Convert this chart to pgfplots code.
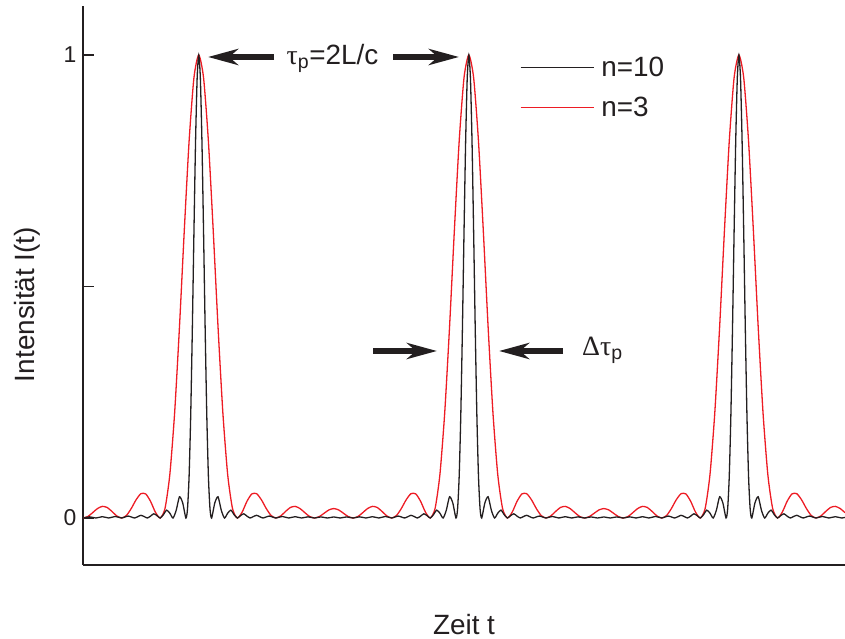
\documentclass[border=0pt]{standalone}
\usepackage{fontspec}
\setmainfont{Liberation Sans}
\newfontfamily\grk{Liberation Serif}
\usepackage{pgfplots}
\pgfplotsset{compat=1.18}
\usetikzlibrary{arrows.meta}
\definecolor{cblack}{RGB}{35,31,32}
\definecolor{cred}{RGB}{237,28,36}
\begin{document}
\begin{tikzpicture}[x=1bp,y=1bp]
\useasboundingbox (0,0) rectangle (845,639);
\begin{axis}[
  at={(83bp,74bp)}, anchor=south west,
  scale only axis, width=762bp, height=559bp,
  xmin=-72, xmax=402, ymin=-0.1015, ymax=1.1058,
  axis lines*=left,
  axis line style={line width=1.9bp, color=cblack},
  xtick=\empty,
  ytick={0,0.5,1}, yticklabels={0,,1},
  tick align=inside, major tick length=11bp,
  tick style={line width=1.9bp, color=cblack},
  /pgf/number format/assume math mode=true,
  yticklabel style={font=\fontsize{23}{27}\selectfont, xshift=-3bp, text=cblack},
  xlabel={Zeit t}, ylabel={Intensität I(t)},
  label style={font=\fontsize{28}{33}\selectfont, text=cblack},
  xlabel style={at={(axis description cs:0.5,-0.1243)}, anchor=base},
  ylabel style={at={(axis description cs:-0.063,0.466)}, anchor=base},
  legend style={at={(axis description cs:0.5735,0.909)}, anchor=north west, draw=none, fill=none,
    inner sep=0pt, outer sep=0pt, font=\fontsize{28}{33}\selectfont, column sep=7bp, row sep=19bp,
    nodes={inner sep=0pt, text=cblack}},
  legend cell align=left,
  legend image code/.code={\draw[#1] (0bp,0bp) -- (73bp,0bp);},
  reverse legend,
]
\addplot[cred, line width=1.3bp, smooth, tension=0.4] table[row sep=\\] {
x y \\
-72 0 \\ -69 0.0032 \\ -66 0.0115 \\ -63 0.0204 \\ -60 0.0251 \\ -57 0.0228 \\ -54 0.0142 \\ -51 0.0045 \\
-48 0 \\ -45 0.0054 \\ -42 0.0204 \\ -39 0.0392 \\ -36 0.0525 \\ -33 0.0520 \\ -30 0.0361 \\ -27 0.0128 \\
-24 0 \\ -21 0.0204 \\ -18 0.0935 \\ -15 0.2273 \\ -12 0.4122 \\ -9 0.6208 \\ -6 0.8140 \\ -3 0.9506 \\
0 1 \\ 3 0.9506 \\ 6 0.8140 \\ 9 0.6208 \\ 12 0.4122 \\ 15 0.2273 \\ 18 0.0935 \\ 21 0.0204 \\
24 0 \\ 27 0.0128 \\ 30 0.0361 \\ 33 0.0520 \\ 36 0.0525 \\ 39 0.0392 \\ 42 0.0204 \\ 45 0.0054 \\
48 0 \\ 51 0.0045 \\ 54 0.0142 \\ 57 0.0228 \\ 60 0.0251 \\ 63 0.0204 \\ 66 0.0115 \\ 69 0.0032 \\
72 0 \\ 75 0.0031 \\ 78 0.0103 \\ 81 0.0175 \\ 84 0.0204 \\
87 0.0175 \\ 90 0.0103 \\ 93 0.0031 \\ 96 0 \\
99 0.0032 \\ 102 0.0115 \\ 105 0.0204 \\ 108 0.0251 \\ 111 0.0228 \\ 114 0.0142 \\ 117 0.0045 \\ 120 0 \\
123 0.0054 \\ 126 0.0204 \\ 129 0.0392 \\ 132 0.0525 \\ 135 0.0520 \\ 138 0.0361 \\ 141 0.0128 \\ 144 0 \\
147 0.0204 \\ 150 0.0935 \\ 153 0.2273 \\ 156 0.4122 \\ 159 0.6208 \\ 162 0.8140 \\ 165 0.9506 \\ 168 1 \\
171 0.9506 \\ 174 0.8140 \\ 177 0.6208 \\ 180 0.4122 \\ 183 0.2273 \\ 186 0.0935 \\ 189 0.0204 \\ 192 0 \\
195 0.0128 \\ 198 0.0361 \\ 201 0.0520 \\ 204 0.0525 \\ 207 0.0392 \\ 210 0.0204 \\ 213 0.0054 \\ 216 0 \\
219 0.0045 \\ 222 0.0142 \\ 225 0.0228 \\ 228 0.0251 \\ 231 0.0204 \\ 234 0.0115 \\ 237 0.0032 \\ 240 0 \\
243 0.0031 \\ 246 0.0103 \\ 249 0.0175 \\ 252 0.0204 \\
255 0.0175 \\ 258 0.0103 \\ 261 0.0031 \\ 264 0 \\
267 0.0032 \\ 270 0.0115 \\ 273 0.0204 \\ 276 0.0251 \\ 279 0.0228 \\ 282 0.0142 \\ 285 0.0045 \\ 288 0 \\
291 0.0054 \\ 294 0.0204 \\ 297 0.0392 \\ 300 0.0525 \\ 303 0.0520 \\ 306 0.0361 \\ 309 0.0128 \\ 312 0 \\
315 0.0204 \\ 318 0.0935 \\ 321 0.2273 \\ 324 0.4122 \\ 327 0.6208 \\ 330 0.8140 \\ 333 0.9506 \\ 336 1 \\
339 0.9506 \\ 342 0.8140 \\ 345 0.6208 \\ 348 0.4122 \\ 351 0.2273 \\ 354 0.0935 \\ 357 0.0204 \\ 360 0 \\
363 0.0128 \\ 366 0.0361 \\ 369 0.0520 \\ 372 0.0525 \\ 375 0.0392 \\ 378 0.0204 \\ 381 0.0054 \\ 384 0 \\
387 0.0045 \\ 390 0.0142 \\ 393 0.0228 \\ 396 0.0251 \\ 399 0.0204 \\ 402 0.0115 \\
};
\addlegendentry{n=3}
\addplot[cblack, line width=1.3bp, smooth, tension=0.4] table[row sep=\\] {
x y \\
-72 0 \\ -70 0.0012 \\ -68 0.0025 \\ -66 0.0013 \\ -64 0 \\ -62 0.0014 \\ -60 0.0028 \\ -58 0.0015 \\
-56 0 \\ -54 0.0016 \\ -52 0.0033 \\ -50 0.0018 \\ -48 0 \\ -46 0.0020 \\ -44 0.0042 \\ -42 0.0023 \\
-40 0 \\ -38 0.0027 \\ -36 0.0058 \\ -34 0.0032 \\ -32 0 \\ -30 0.0040 \\ -28 0.0091 \\ -26 0.0052 \\
-24 0 \\ -22 0.0071 \\ -20 0.0170 \\ -18 0.0104 \\ -16 0 \\ -14 0.0169 \\ -12 0.0458 \\ -10 0.0328 \\
-8 0 \\ -7 0.0195 \\ -6 0.0904 \\ -5 0.2220 \\ -4 0.4060 \\ -3 0.6156 \\ -2 0.8110 \\ -1 0.9497 \\ 0 1 \\
1 0.9497 \\ 2 0.8110 \\ 3 0.6156 \\ 4 0.4060 \\ 5 0.2220 \\ 6 0.0904 \\ 7 0.0195 \\ 8 0 \\
10 0.0328 \\ 12 0.0458 \\ 14 0.0169 \\ 16 0 \\ 18 0.0104 \\ 20 0.0170 \\ 22 0.0071 \\ 24 0 \\
26 0.0052 \\ 28 0.0091 \\ 30 0.0040 \\ 32 0 \\ 34 0.0032 \\ 36 0.0058 \\ 38 0.0027 \\ 40 0 \\
42 0.0023 \\ 44 0.0042 \\ 46 0.0020 \\ 48 0 \\ 50 0.0018 \\ 52 0.0033 \\ 54 0.0016 \\ 56 0 \\
58 0.0015 \\ 60 0.0028 \\ 62 0.0014 \\ 64 0 \\ 66 0.0013 \\ 68 0.0025 \\ 70 0.0012 \\ 72 0 \\
74 0.0012 \\ 76 0.0023 \\ 78 0.0012 \\ 80 0 \\ 82 0.0011 \\ 84 0.0023 \\
86 0.0011 \\ 88 0 \\ 90 0.0012 \\ 92 0.0023 \\ 94 0.0012 \\ 96 0 \\
98 0.0012 \\ 100 0.0025 \\ 102 0.0013 \\ 104 0 \\ 106 0.0014 \\ 108 0.0028 \\ 110 0.0015 \\ 112 0 \\
114 0.0016 \\ 116 0.0033 \\ 118 0.0018 \\ 120 0 \\ 122 0.0020 \\ 124 0.0042 \\ 126 0.0023 \\ 128 0 \\
130 0.0027 \\ 132 0.0058 \\ 134 0.0032 \\ 136 0 \\ 138 0.0040 \\ 140 0.0091 \\ 142 0.0052 \\ 144 0 \\
146 0.0071 \\ 148 0.0170 \\ 150 0.0104 \\ 152 0 \\ 154 0.0169 \\ 156 0.0458 \\ 158 0.0328 \\ 160 0 \\
161 0.0195 \\ 162 0.0904 \\ 163 0.2220 \\ 164 0.4060 \\ 165 0.6156 \\ 166 0.8110 \\ 167 0.9497 \\ 168 1 \\
169 0.9497 \\ 170 0.8110 \\ 171 0.6156 \\ 172 0.4060 \\ 173 0.2220 \\ 174 0.0904 \\ 175 0.0195 \\ 176 0 \\
178 0.0328 \\ 180 0.0458 \\ 182 0.0169 \\ 184 0 \\ 186 0.0104 \\ 188 0.0170 \\ 190 0.0071 \\ 192 0 \\
194 0.0052 \\ 196 0.0091 \\ 198 0.0040 \\ 200 0 \\ 202 0.0032 \\ 204 0.0058 \\ 206 0.0027 \\ 208 0 \\
210 0.0023 \\ 212 0.0042 \\ 214 0.0020 \\ 216 0 \\ 218 0.0018 \\ 220 0.0033 \\ 222 0.0016 \\ 224 0 \\
226 0.0015 \\ 228 0.0028 \\ 230 0.0014 \\ 232 0 \\ 234 0.0013 \\ 236 0.0025 \\ 238 0.0012 \\ 240 0 \\
242 0.0012 \\ 244 0.0023 \\ 246 0.0012 \\ 248 0 \\ 250 0.0011 \\ 252 0.0023 \\
254 0.0011 \\ 256 0 \\ 258 0.0012 \\ 260 0.0023 \\ 262 0.0012 \\ 264 0 \\
266 0.0012 \\ 268 0.0025 \\ 270 0.0013 \\ 272 0 \\ 274 0.0014 \\ 276 0.0028 \\ 278 0.0015 \\ 280 0 \\
282 0.0016 \\ 284 0.0033 \\ 286 0.0018 \\ 288 0 \\ 290 0.0020 \\ 292 0.0042 \\ 294 0.0023 \\ 296 0 \\
298 0.0027 \\ 300 0.0058 \\ 302 0.0032 \\ 304 0 \\ 306 0.0040 \\ 308 0.0091 \\ 310 0.0052 \\ 312 0 \\
314 0.0071 \\ 316 0.0170 \\ 318 0.0104 \\ 320 0 \\ 322 0.0169 \\ 324 0.0458 \\ 326 0.0328 \\ 328 0 \\
329 0.0195 \\ 330 0.0904 \\ 331 0.2220 \\ 332 0.4060 \\ 333 0.6156 \\ 334 0.8110 \\ 335 0.9497 \\ 336 1 \\
337 0.9497 \\ 338 0.8110 \\ 339 0.6156 \\ 340 0.4060 \\ 341 0.2220 \\ 342 0.0904 \\ 343 0.0195 \\ 344 0 \\
346 0.0328 \\ 348 0.0458 \\ 350 0.0169 \\ 352 0 \\ 354 0.0104 \\ 356 0.0170 \\ 358 0.0071 \\ 360 0 \\
362 0.0052 \\ 364 0.0091 \\ 366 0.0040 \\ 368 0 \\ 370 0.0032 \\ 372 0.0058 \\ 374 0.0027 \\ 376 0 \\
378 0.0023 \\ 380 0.0042 \\ 382 0.0020 \\ 384 0 \\ 386 0.0018 \\ 388 0.0033 \\ 390 0.0016 \\ 392 0 \\
394 0.0015 \\ 396 0.0028 \\ 398 0.0014 \\ 400 0 \\ 402 0.0013 \\
};
\addlegendentry{n=10}
\end{axis}
% annotations
\draw[line width=6bp, cblack, -{Stealth[length=30bp, width=16bp, inset=9bp]}] (274,582) -- (208,582);
\draw[line width=6bp, cblack, -{Stealth[length=30bp, width=16bp, inset=9bp]}] (393,582) -- (459,582);
\node[font=\fontsize{28}{33}\selectfont, text=cblack, anchor=base, inner sep=0pt] at (332.5,574) {{\grk τ}\textsubscript{p}=2L/c};
\draw[line width=6bp, cblack, -{Stealth[length=30bp, width=16bp, inset=9bp]}] (373,288) -- (437,288);
\draw[line width=6bp, cblack, -{Stealth[length=30bp, width=16bp, inset=9bp]}] (563,288) -- (499,288);
\node[font=\fontsize{28}{33}\selectfont, text=cblack, anchor=base west, inner sep=0pt] at (582,283) {{\grk Δτ}\textsubscript{p}};
\end{tikzpicture}
\end{document}
